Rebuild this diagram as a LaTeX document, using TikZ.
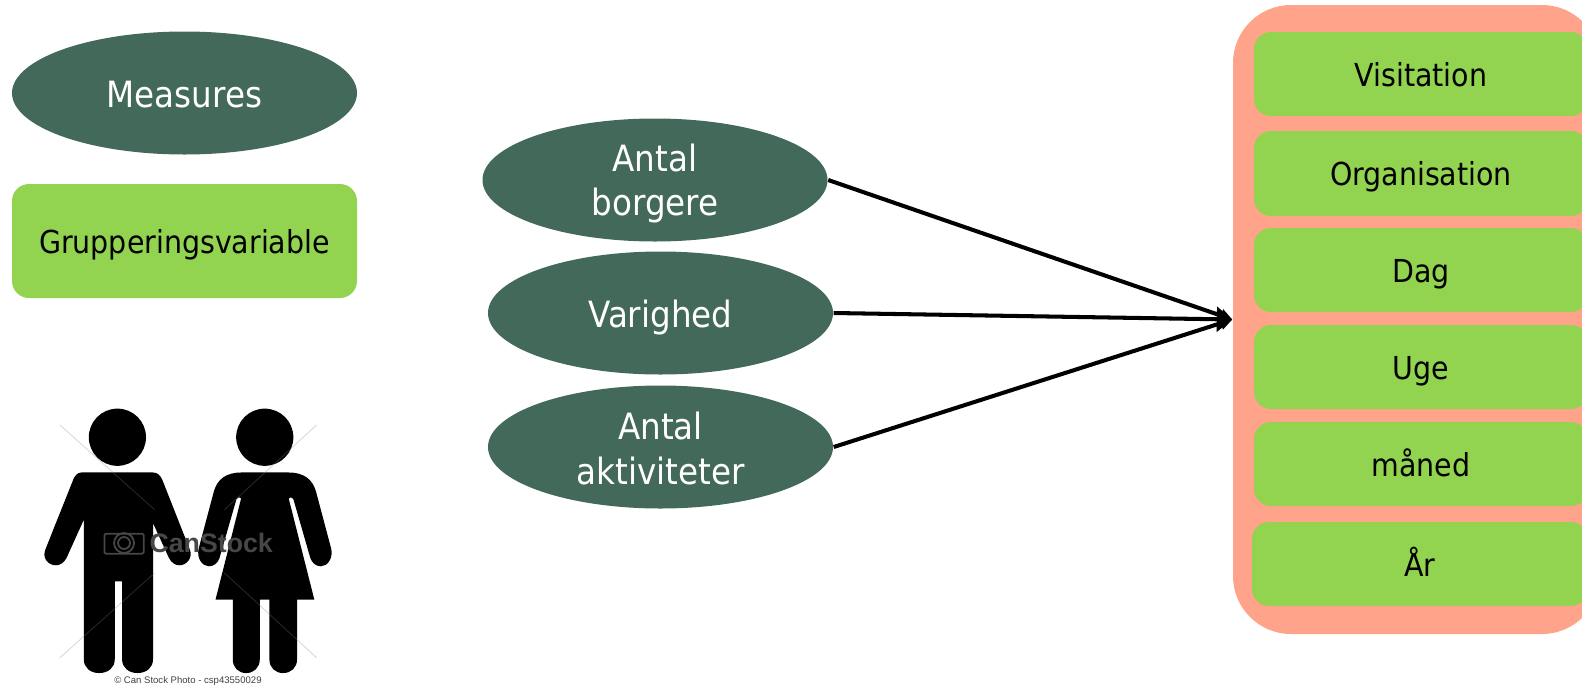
\documentclass[tikz,border=0pt]{standalone}
\usepackage{amsmath, amssymb, fontspec}
\usetikzlibrary{shapes.geometric,arrows.meta}
\setmainfont{DejaVu Sans Condensed}
\newfontfamily\photofont{Liberation Sans}
\definecolor{darkgreen}{RGB}{67,105,90}
\definecolor{lightgreen}{RGB}{146,212,80}
\definecolor{salmon}{RGB}{255,163,139}
\tikzset{
measure/.style={ellipse,fill=darkgreen,text=white,inner sep=0pt,minimum width=3.45cm,minimum height=1.23cm,align=center,font=\fontsize{10.3}{12.6}\selectfont},
groupbox/.style={rectangle,rounded corners=0.17cm,fill=lightgreen,inner sep=0pt,text height=9pt,text depth=1.9pt,font=\fontsize{9}{11}\selectfont},
link/.style={->,>={Triangle[length=4.4pt,width=7pt]},line width=1.15pt},
side link/.style={->,>={Triangle[length=3.4pt,width=3.6pt]},line width=1.15pt},
stamp/.style={draw=gray,opacity=0.3,line width=0.25pt},
mark line/.style={draw=black!72,line width=0.5pt}
}
\begin{document}
\begin{tikzpicture}
\path[use as bounding box,clip] (0,0) rectangle (15.82,6.86);
\node[measure,text height=9.6pt,text depth=1.6pt] (measures)at(1.845,5.93){Measures};
\node[groupbox,minimum width=3.45cm,minimum height=1.14cm] (gruppe)at(1.845,4.45){Grupperingsvariable};
\node[measure] (borgere)at(6.55,5.06){\rule{0pt}{10pt}Antal\\borgere};
\node[measure,text height=9.6pt,text depth=1.6pt] (varighed)at(6.605,3.73){Varighed};
\node[measure] (aktiviteter)at(6.605,2.39){\rule{0pt}{8.6pt}Antal\\aktiviteter};
\node[rectangle,rounded corners=0.58cm,fill=salmon,inner sep=0pt,minimum width=3.67cm,minimum height=6.29cm] (tid)at(14.165,3.665){};
\node[groupbox,minimum width=3.34cm,minimum height=0.84cm] (visitation)at(14.21,6.12){Visitation};
\node[groupbox,minimum width=3.34cm,minimum height=0.85cm] (organisation)at(14.21,5.125){Organisation};
\node[groupbox,minimum width=3.34cm,minimum height=0.84cm] (dag)at(14.21,4.16){Dag};
\node[groupbox,minimum width=3.34cm,minimum height=0.84cm] (uge)at(14.21,3.19){Uge};
\node[groupbox,minimum width=3.34cm,minimum height=0.84cm] (maaned)at(14.21,2.22){måned};
\node[groupbox,minimum width=3.36cm,minimum height=0.84cm] (aar)at(14.2,1.22){År};
\draw[side link] (borgere.east) -- (tid.west);
\draw[link] (varighed.east) -- (tid.west);
\draw[side link] (aktiviteter.east) -- (tid.west);
\begin{scope}[yshift=2.96cm,x=0.003333cm,y=-0.003333cm]
\fill (353,142) circle[radius=86];
\fill (796,142) circle[radius=86];
\fill (245,248) -- (460,248) .. controls (475,248) and (482,258) .. (488,270) -- (570,478) .. controls (582,505) and (560,527) .. (540,527) .. controls (525,527) and (515,518) .. (508,505) -- (460,400) -- (460,810) .. controls (460,835) and (440,851) .. (413,851) .. controls (388,851) and (367,835) .. (367,810) -- (367,575) -- (345,575) -- (345,810) .. controls (345,835) and (325,851) .. (298,851) .. controls (272,851) and (252,835) .. (252,810) -- (252,390) -- (200,505) .. controls (192,520) and (180,527) .. (168,527) .. controls (145,527) and (125,505) .. (137,478) -- (220,270) .. controls (225,258) and (232,248) .. (245,248) -- cycle;
\fill (725,248) -- (868,248) .. controls (915,248) and (940,270) .. (950,305) -- (996,478) .. controls (1002,505) and (985,530) .. (965,530) .. controls (950,530) and (938,520) .. (933,505) -- (882,328) .. controls (880,322) and (870,320) .. (868,326) -- (945,630) -- (893,630) -- (893,810) .. controls (893,835) and (875,851) .. (851,851) .. controls (828,851) and (810,835) .. (810,810) -- (810,630) -- (781,630) -- (781,810) .. controls (781,835) and (763,851) .. (740,851) .. controls (717,851) and (700,835) .. (700,810) -- (700,630) -- (648,630) -- (725,326) .. controls (723,320) and (713,322) .. (711,328) -- (660,505) .. controls (655,520) and (643,530) .. (628,530) .. controls (608,530) and (591,505) .. (597,478) -- (643,305) .. controls (653,270) and (678,248) .. (725,248) -- cycle;
\draw[stamp] (180,105) -- (465,360);
\draw[stamp] (180,805) -- (465,550);
\draw[stamp] (952,105) -- (675,360);
\draw[stamp] (952,805) -- (675,550);
\draw[mark line,rounded corners=0.4pt] (314,492) rectangle (432,432);
\draw[mark line] (373,460) circle[radius=30];
\draw[mark line] (373,460) circle[radius=18];
\node[text=black!72,font=\photofont\bfseries\fontsize{7.6}{9}\selectfont,inner sep=0pt] (canstock)at(635,460){CanStock};
\node[text=black!75,font=\photofont\fontsize{2.72}{3.5}\selectfont,inner sep=0pt] (credit)at(565,876){© Can Stock Photo - csp43550029};
\end{scope}
\end{tikzpicture}
\end{document}
